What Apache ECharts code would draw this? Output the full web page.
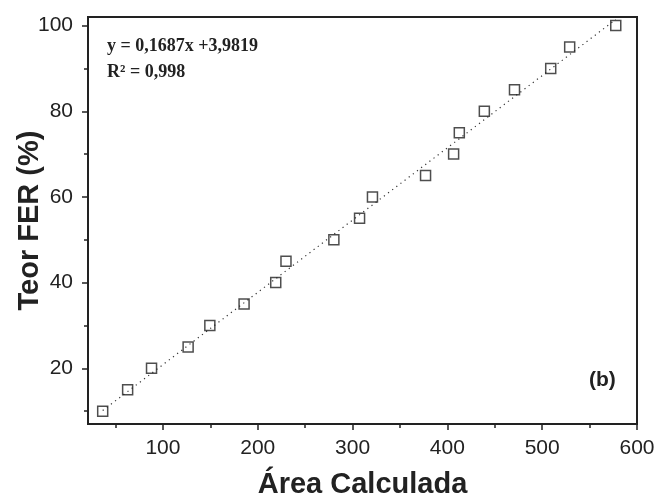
<!DOCTYPE html>
<html>
<head>
<meta charset="utf-8">
<script src="https://cdn.jsdelivr.net/npm/echarts@6/dist/echarts.min.js"></script>
<style>
  html, body { margin: 0; padding: 0; background: #fff; }
  #chart { width: 659px; height: 496px; }
</style>
</head>
<body>
<div id="chart"></div>
<script>
// valores
var areaCalculada = [36.5, 62.8, 88, 126.6, 149.5, 185.6, 219, 229.8, 280.3, 307.4, 321, 377, 406.6, 412.6, 439, 470.8, 509, 529, 577.6]
var teorFer = [10, 15, 20, 25, 30, 35, 40, 45, 50, 55, 60, 65, 70, 75, 80, 85, 90, 95, 100]
var xMajor = [100, 200, 300, 400, 500, 600]
var xMinor = [50, 150, 250, 350, 450, 550]
var yMajor = [20, 40, 60, 80, 100]
var yMinor = [10, 30, 50, 70, 90]
// ajuste linear (do texto do gráfico)
var slope = 0.1687
var intercept = 3.9819

var pontos = areaCalculada.map(function (x, i) { return [x, teorFer[i]] })
var xs = [Math.min.apply(null, areaCalculada), Math.max.apply(null, areaCalculada)]
var reta = xs.map(function (x) { return [x, slope * x + intercept] })

var cor = '#222'
var fonte = 'Liberation Sans, Arial, sans-serif'
var xMin = 21, xMax = 600, yMin = 7, yMax = 102

var chart = echarts.init(document.getElementById('chart'))
var option = {
  animation: false,
  grid: {
    left: 88, right: 22, top: 17, bottom: 72,
    outerBoundsMode: 'none', containLabel: false,
    show: true, borderColor: cor, borderWidth: 2, backgroundColor: 'transparent'
  },
  xAxis: [
    {
      type: 'value', min: xMin, max: xMax, position: 'bottom',
      name: 'Área Calculada', nameLocation: 'middle', nameGap: 46, nameMoveOverlap: false,
      nameTextStyle: { fontFamily: fonte, fontWeight: 'bold', fontSize: 29, color: cor },
      axisLine: { show: true, lineStyle: { color: cor, width: 2 } },
      axisTick: { show: true, customValues: xMajor, length: 6, lineStyle: { color: cor, width: 1.5 } },
      axisLabel: { customValues: xMajor, margin: 14, fontFamily: fonte, fontSize: 21, color: cor },
      splitLine: { show: false }
    },
    {
      type: 'value', min: xMin, max: xMax, position: 'bottom', gridIndex: 0,
      axisLine: { show: false },
      axisTick: { show: true, customValues: xMinor, length: 4, lineStyle: { color: cor, width: 1.5 } },
      axisLabel: { show: false },
      splitLine: { show: false }
    }
  ],
  yAxis: [
    {
      type: 'value', min: yMin, max: yMax, position: 'left',
      name: 'Teor FER (%)', nameLocation: 'middle', nameGap: 44, nameMoveOverlap: false,
      nameTextStyle: { fontFamily: fonte, fontWeight: 'bold', fontSize: 29, color: cor },
      axisLine: { show: true, lineStyle: { color: cor, width: 2 } },
      axisTick: { show: true, customValues: yMajor, length: 6, lineStyle: { color: cor, width: 1.5 } },
      axisLabel: { customValues: yMajor, margin: 15, fontFamily: fonte, fontSize: 21, color: cor },
      splitLine: { show: false }
    },
    {
      type: 'value', min: yMin, max: yMax, position: 'left', gridIndex: 0,
      axisLine: { show: false },
      axisTick: { show: true, customValues: yMinor, length: 4, lineStyle: { color: cor, width: 1.5 } },
      axisLabel: { show: false },
      splitLine: { show: false }
    }
  ],
  series: [
    {
      type: 'line', data: reta, showSymbol: false, symbol: 'none',
      lineStyle: { color: '#333', width: 1.2, type: [1.2, 4] },
      silent: true, z: 1
    },
    {
      type: 'scatter', data: pontos, symbol: 'rect', symbolSize: 10,
      itemStyle: { color: 'rgba(0,0,0,0)', borderColor: cor, borderWidth: 1.5 },
      z: 2
    }
  ],
  graphic: [
    {
      type: 'text', left: 107, top: 33,
      style: {
        text: 'y = 0,1687x +3,9819\nR² = 0,998',
        font: 'bold 18px "Liberation Serif", "Times New Roman", serif',
        fill: cor, lineHeight: 26
      }
    },
    {
      type: 'text', left: 589, top: 370,
      style: { text: '(b)', font: 'bold 21px "Liberation Sans", Arial, sans-serif', fill: cor }
    }
  ]
}
chart.setOption(option)
</script>
</body>
</html>
